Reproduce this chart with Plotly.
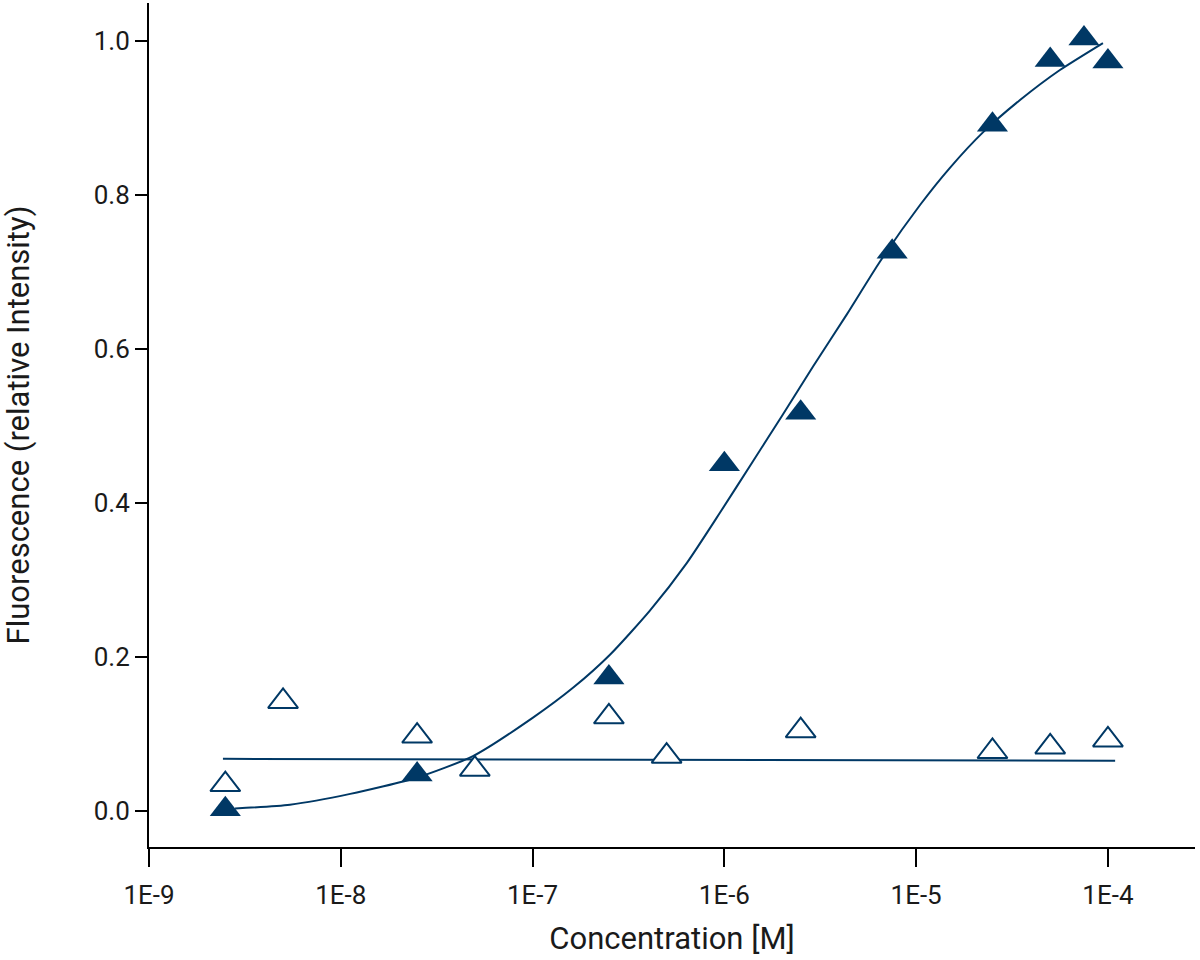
import plotly.graph_objects as go

# Measured data (concentration in M, fluorescence relative)
conc_bound = [2.5e-9, 2.5e-8, 2.5e-7, 1e-6, 2.5e-6, 7.5e-6, 2.5e-5, 5e-5, 7.5e-5, 1e-4]
fluor_bound = [0.002, 0.047, 0.173, 0.450, 0.517, 0.726, 0.891, 0.975, 1.003, 0.973]

conc_control = [2.5e-9, 5e-9, 2.5e-8, 5e-8, 2.5e-7, 5e-7, 2.5e-6, 2.5e-5, 5e-5, 1e-4]
fluor_control = [0.034, 0.142, 0.097, 0.054, 0.122, 0.071, 0.104, 0.077, 0.083, 0.092]

# Fitted curve
fit_bound_conc = [2.81e-9, 5.43e-9, 1.12e-8, 2.49e-8, 4.89e-8, 1.005e-7, 1.63e-7, 2.54e-7,
                  4.09e-7, 6.38e-7, 9.48e-7, 1.41e-6, 2.00e-6, 2.90e-6, 4.36e-6, 6.47e-6,
                  1.05e-5, 1.50e-5, 2.23e-5, 3.48e-5, 5.62e-5, 9.42e-5]
fit_bound_fluor = [0.003, 0.008, 0.022, 0.043, 0.071, 0.121, 0.160, 0.203,
                   0.260, 0.322, 0.387, 0.454, 0.513, 0.577, 0.645, 0.713,
                   0.787, 0.835, 0.881, 0.923, 0.962, 0.997]

fit_control_conc = [2.43e-9, 1.09e-4]
fit_control_fluor = [0.0675, 0.065]

x_tickvals = [1e-9, 1e-8, 1e-7, 1e-6, 1e-5, 1e-4]
x_ticktext = ["1E-9", "1E-8", "1E-7", "1E-6", "1E-5", "1E-4"]
y_tickvals = [0.0, 0.2, 0.4, 0.6, 0.8, 1.0]
y_ticktext = ["0.0", "0.2", "0.4", "0.6", "0.8", "1.0"]

NAVY = "#003865"
FONT = "Roboto"

fig = go.Figure()
fig.add_trace(go.Scatter(x=fit_bound_conc, y=fit_bound_fluor, mode="lines",
                         line=dict(color=NAVY, width=2, shape="spline", smoothing=0.6),
                         showlegend=False, hoverinfo="skip"))
fig.add_trace(go.Scatter(x=fit_control_conc, y=fit_control_fluor, mode="lines",
                         line=dict(color=NAVY, width=2),
                         showlegend=False, hoverinfo="skip"))
fig.add_trace(go.Scatter(x=conc_control, y=fluor_control, mode="markers",
                         marker=dict(symbol="triangle-up", size=26, color="white",
                                     line=dict(color=NAVY, width=2)),
                         showlegend=False))
fig.add_trace(go.Scatter(x=conc_bound, y=fluor_bound, mode="markers",
                         marker=dict(symbol="triangle-up", size=27, color=NAVY,
                                     line=dict(width=0)),
                         showlegend=False))

fig.update_layout(
    width=1200, height=960,
    margin=dict(l=149, r=5, t=3, b=113),
    paper_bgcolor="white", plot_bgcolor="white",
    font=dict(family=FONT, size=26, color="#1a1a1a"),
    xaxis=dict(
        type="log", range=[-9, -3.546],
        tickvals=x_tickvals, ticktext=x_ticktext,
        showgrid=False, zeroline=False,
        showline=True, linecolor="black", linewidth=2,
        ticks="outside", ticklen=18, tickwidth=2, tickcolor="black",
        ticklabelstandoff=6,
        title=dict(text="Concentration [M]", standoff=18),
    ),
    yaxis=dict(
        range=[-0.047, 1.049],
        tickvals=y_tickvals, ticktext=y_ticktext,
        showgrid=False, zeroline=False,
        showline=True, linecolor="black", linewidth=2,
        ticks="outside", ticklen=12, tickwidth=2, tickcolor="black",
        title=dict(text="Fluorescence (relative Intensity)", standoff=56),
    ),
)

fig.write_html("out.html",
               config={"displayModeBar": False},
               post_script="document.body.style.margin='0';document.body.style.overflow='hidden';")
